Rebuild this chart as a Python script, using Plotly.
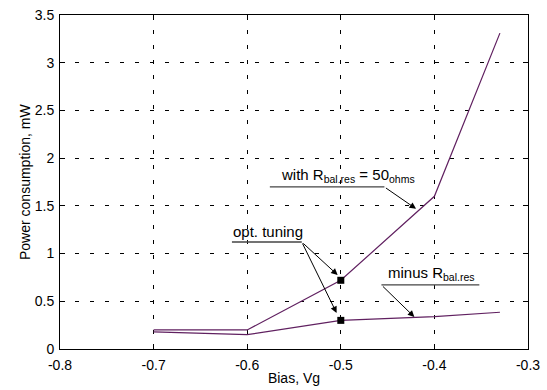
import plotly.graph_objects as go

# ---- data ----
bias = [-0.7, -0.6, -0.5, -0.4, -0.33]
power_with_rbal = [0.20, 0.20, 0.72, 1.60, 3.31]
power_minus_rbal = [0.18, 0.15, 0.30, 0.34, 0.385]
opt_bias = [-0.5, -0.5]
opt_power = [0.72, 0.30]

x_ticks = [-0.8, -0.7, -0.6, -0.5, -0.4, -0.3]
x_ticktext = ["-0.8", "-0.7", "-0.6", "-0.5", "-0.4", "-0.3"]
y_ticks = [0, 0.5, 1, 1.5, 2, 2.5, 3, 3.5]
y_ticktext = ["0", "0.5", "1", "1.5", "2", "2.5", "3", "3.5"]

line_color = "#602060"
font = "Liberation Sans, Arial, sans-serif"

fig = go.Figure()
fig.add_trace(go.Scatter(x=bias, y=power_with_rbal, mode="lines",
                         line=dict(color=line_color, width=1.2), showlegend=False))
fig.add_trace(go.Scatter(x=bias, y=power_minus_rbal, mode="lines",
                         line=dict(color=line_color, width=1.2), showlegend=False))
fig.add_trace(go.Scatter(x=opt_bias, y=opt_power, mode="markers",
                         marker=dict(symbol="square", size=7, color="black"),
                         showlegend=False))

# underlines for labels
underlines = [
    (-0.5758, -0.4534, 1.698),
    (-0.6163, -0.5417, 1.121),
    (-0.4566, -0.3520, 0.671),
]
for x0, x1, y in underlines:
    fig.add_shape(type="line", x0=x0, x1=x1, y0=y, y1=y,
                  line=dict(color="#444", width=1.3))

# label texts
labels = [
    ("with R<sub>bal.res</sub> = 50<sub>ohms</sub>", -0.5651, 1.698),
    ("opt. tuning", -0.6163, 1.121),
    ("minus R<sub>bal.res</sub>", -0.4502, 0.671),
]
for txt, x, y in labels:
    fig.add_annotation(x=x, y=y, text=txt, showarrow=False, xanchor="left",
                       yanchor="bottom", xshift=-1, yshift=0,
                       font=dict(family=font, size=15, color="black"))

# arrows (tail -> tip)
arrows = [
    (-0.4534, 1.698, -0.4196, 1.469),
    (-0.5417, 1.121, -0.5034, 0.775),
    (-0.5417, 1.121, -0.5045, 0.377),
    (-0.4566, 0.671, -0.4214, 0.335),
]
for tx, ty, hx, hy in arrows:
    fig.add_annotation(x=hx, y=hy, ax=tx, ay=ty, axref="x", ayref="y",
                       xref="x", yref="y", text="", showarrow=True,
                       arrowhead=2, arrowsize=1.3, arrowwidth=1,
                       arrowcolor="black", standoff=0, startstandoff=0)

# y-axis title placed as rotated text
fig.add_annotation(text="Power consumption, mW", xref="paper", yref="paper",
                   x=(25 - 60) / 468, y=0.5, xanchor="center", yanchor="middle",
                   textangle=-90, showarrow=False,
                   font=dict(family=font, size=14, color="black"))

axis_common = dict(
    showline=True, linecolor="black", linewidth=1, mirror="allticks",
    ticks="inside", ticklen=5, tickcolor="black", automargin=False,
    showgrid=True, gridcolor="black", gridwidth=1, griddash="4px,11px",
    zeroline=False, tickfont=dict(family=font, size=14, color="black"),
)

fig.update_xaxes(range=[-0.8, -0.3], tickvals=x_ticks, ticktext=x_ticktext,
                 ticklabelstandoff=3,
                 title=dict(text="Bias, Vg", font=dict(family=font, size=14, color="black"),
                            standoff=1),
                 **axis_common)
fig.update_yaxes(range=[0, 3.5], tickvals=y_ticks, ticktext=y_ticktext,
                 ticklabelstandoff=2,
                 **axis_common)

fig.update_layout(
    width=547, height=390,
    margin=dict(l=60, r=19, t=15, b=41),
    paper_bgcolor="white", plot_bgcolor="white",
    font=dict(family=font, size=14, color="black"),
)

fig.write_html("out.html", config={"displayModeBar": False},
               post_script="document.body.style.margin='0';document.body.style.overflow='hidden';")
